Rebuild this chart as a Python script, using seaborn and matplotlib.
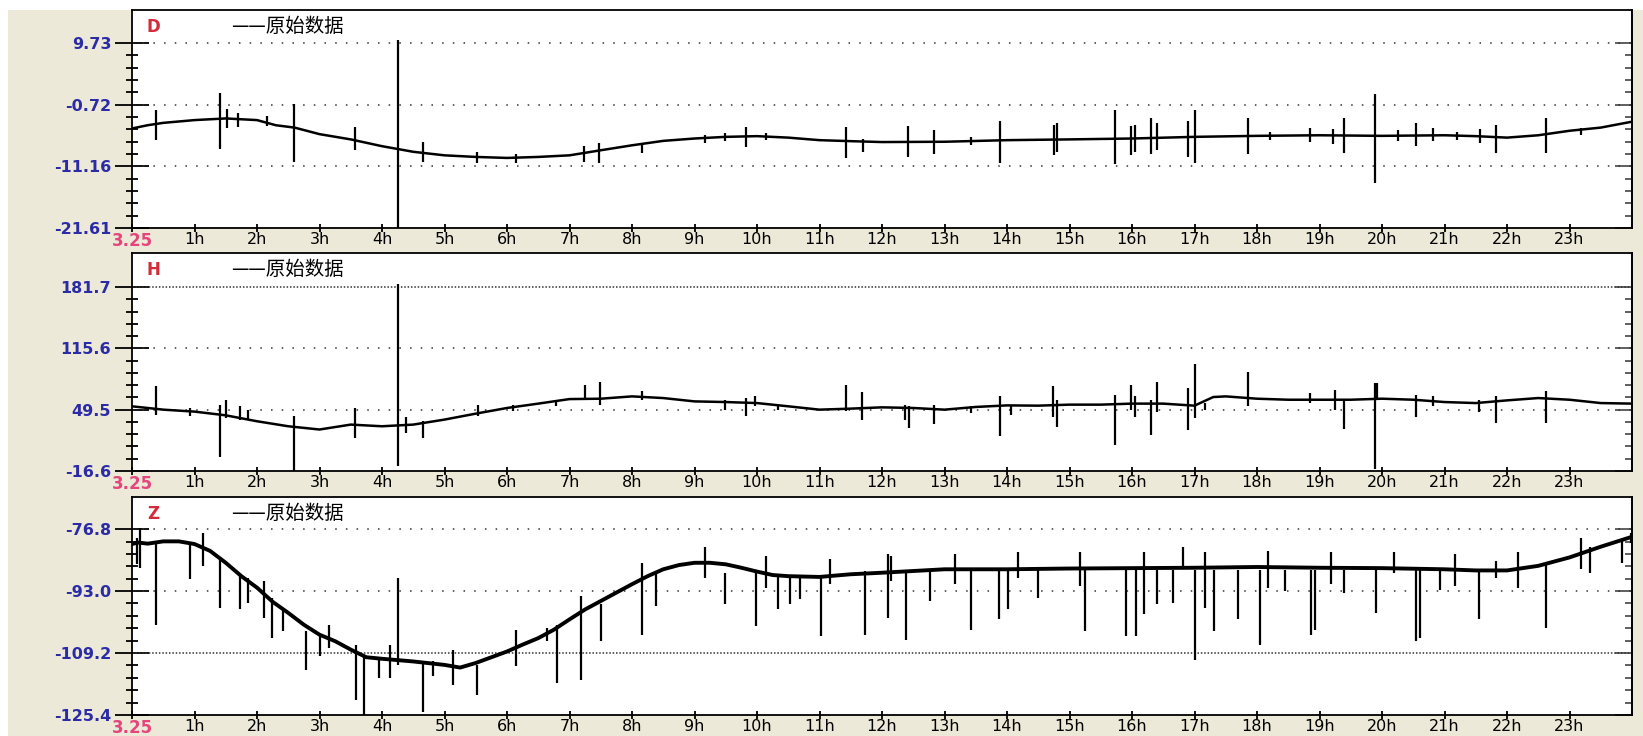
import numpy as np
import pandas as pd
import matplotlib
matplotlib.use("Agg")
import matplotlib.pyplot as plt
import seaborn as sns
from matplotlib.patches import Rectangle

sns.set_style("white")
plt.rcParams['font.family'] = ['DejaVu Sans']

# ---------------- data ----------------
hour_labels = ['3.25'] + [f'{h}h' for h in range(1, 24)]

# D component
D_base_h = [0, 0.25, 0.5, 1, 1.5, 2, 2.3, 2.6, 3, 3.5, 4, 4.5, 5, 5.5, 6, 6.5, 7, 7.5, 8, 8.5,
            9, 9.5, 10, 10.5, 11, 11.5, 12, 13, 14, 15, 16, 17, 18, 19, 20, 21, 21.5, 22,
            22.5, 23, 23.5, 24]
D_base_v = [-4.75, -4.2, -3.8, -3.33, -3.05, -3.33, -4.2, -4.6, -5.71, -6.6, -7.75, -8.7, -9.3,
            -9.57, -9.74, -9.57, -9.3, -8.44, -7.6, -6.85, -6.45, -6.17, -6.05, -6.3, -6.73,
            -6.9, -7.05, -7.0, -6.73, -6.6, -6.45, -6.17, -6.0, -5.9, -6.0, -5.9, -6.05, -6.3,
            -5.9, -5.14, -4.6, -3.6]
D_spk_h = [0.39, 1.40, 1.52, 1.69, 2.16, 2.59, 3.57, 4.26, 4.65, 5.52, 6.14, 7.23, 7.47, 8.16,
           9.17, 9.48, 9.83, 10.14, 11.42, 11.69, 12.42, 12.83, 13.43, 13.88, 14.75, 14.80,
           15.72, 15.99, 16.05, 16.30, 16.40, 16.89, 17.0, 17.85, 18.21, 18.85, 19.22, 19.39,
           19.89, 20.26, 20.54, 20.81, 21.2, 21.57, 21.82, 22.63, 23.18]
D_spk_hi = [-1.62, 1.33, -1.51, -2.19, -2.65, -0.66, -4.58, 10.18, -7.02, -8.72, -9.12, -7.75,
            -7.19, -7.19, -5.88, -5.48, -4.58, -5.48, -4.58, -6.45, -4.35, -5.03, -6.17, -3.5,
            -4.18, -3.9, -1.62, -4.35, -4.18, -2.93, -3.78, -3.5, -1.62, -3.04, -5.31, -4.75,
            -4.92, -2.93, 1.1, -5.03, -3.78, -4.75, -5.31, -4.92, -4.18, -3.04, -4.75]
D_spk_lo = [-6.73, -8.15, -4.75, -4.46, -4.35, -10.42, -8.44, -21.61, -10.42, -10.54, -10.6,
            -10.42, -10.6, -8.89, -7.19, -6.85, -7.87, -6.73, -9.74, -8.72, -9.57, -9.0, -7.58,
            -10.6, -9.29, -8.72, -10.82, -9.29, -8.72, -9.0, -8.32, -9.57, -10.6, -9.12, -6.73,
            -7.02, -7.3, -8.89, -14.0, -6.85, -7.75, -6.9, -6.73, -7.19, -8.89, -8.89, -5.88]
D_ticks = [-21.61, -11.16, -0.72, 9.73]
D_ticklabels = ['-21.61', '-11.16', '-0.72', '9.73']

# H component
H_base_h = [0, 0.25, 0.5, 1, 1.5, 2, 2.5, 3, 3.5, 4, 4.5, 5, 5.5, 6, 6.5, 7, 7.5, 8, 8.5, 9,
            9.5, 10, 10.5, 11, 11.5, 12, 12.5, 13, 13.5, 14, 14.5, 15, 15.5, 16, 16.5, 17,
            17.3, 17.5, 18, 18.5, 19, 19.5, 20, 20.5, 21, 21.5, 22, 22.5, 23, 23.5, 24]
H_base_v = [53.1, 51.3, 49.5, 47.4, 43.4, 37.0, 31.6, 28.1, 33.4, 31.6, 33.4, 38.8, 45.2, 51.3,
            56.0, 60.9, 61.3, 63.8, 62.0, 58.4, 57.7, 56.6, 53.1, 49.5, 50.6, 52.0, 51.3, 49.5,
            52.4, 54.1, 53.8, 54.9, 54.9, 56.0, 56.0, 53.8, 63.1, 63.8, 61.3, 60.2, 60.2, 60.2,
            61.3, 60.2, 57.7, 56.6, 59.5, 62.0, 60.2, 56.6, 56.0]
H_spk_h = [0.39, 0.92, 1.41, 1.50, 1.72, 1.86, 2.59, 3.57, 4.26, 4.39, 4.65, 5.53, 6.10, 6.78,
           7.25, 7.48, 8.16, 9.48, 9.83, 9.96, 10.33, 11.42, 11.68, 12.36, 12.43, 12.83, 13.43,
           13.88, 14.07, 14.73, 14.80, 15.72, 15.98, 16.05, 16.31, 16.40, 16.89, 17.0, 17.16,
           17.85, 18.85, 19.25, 19.39, 19.89, 19.92, 20.54, 20.81, 21.55, 21.82, 22.63]
H_spk_hi = [74.5, 51.3, 54.9, 60.2, 53.1, 49.5, 43.1, 51.3, 184.6, 41.6, 37.0, 54.9, 54.9, 60.2,
            76.3, 78.8, 69.2, 60.2, 62.0, 63.8, 54.9, 76.3, 68.1, 54.9, 53.1, 54.9, 53.8, 63.8,
            54.9, 74.5, 60.2, 65.6, 76.3, 63.8, 60.2, 78.8, 72.7, 98.4, 56.6, 90.6, 67.4, 70.9,
            60.2, 78.1, 78.1, 65.6, 63.8, 60.2, 63.8, 69.2]
H_spk_lo = [44.1, 42.4, -1.2, 40.6, 38.8, 38.8, -16.6, 19.1, -11.2, 24.5, 19.1, 42.4, 47.7, 53.1,
            60.2, 54.9, 60.2, 49.5, 42.4, 53.1, 49.5, 47.7, 38.8, 38.8, 29.9, 34.5, 45.9, 21.6,
            44.1, 41.6, 30.9, 10.9, 49.5, 41.6, 22.7, 46.6, 28.1, 40.6, 49.5, 53.1, 56.6, 49.5,
            28.8, -14.8, 60.2, 41.6, 53.1, 46.6, 35.2, 35.2]
H_ticks = [-16.6, 49.5, 115.6, 181.7]
H_ticklabels = ['-16.6', '49.5', '115.6', '181.7']

# Z component
Z_base_h = [0, 0.1, 0.25, 0.5, 0.75, 1, 1.25, 1.5, 1.75, 2, 2.25, 2.5, 2.75, 3, 3.25, 3.5, 3.75,
            4, 4.5, 5, 5.25, 5.5, 5.75, 6, 6.25, 6.5, 6.75, 7, 7.25, 7.5, 7.75, 8, 8.25, 8.5,
            8.75, 9, 9.25, 9.5, 9.75, 10, 10.25, 10.5, 11, 11.5, 12, 13, 14, 15, 16, 17, 18,
            19, 20, 21, 21.5, 22, 22.5, 23, 23.5, 24]
Z_base_v = [-80.7, -80.3, -80.6, -80.0, -80.0, -80.7, -82.5, -85.6, -89.1, -92.1, -95.8, -98.7,
            -101.8, -104.4, -106.1, -108.3, -110.3, -110.7, -111.4, -112.3, -113.0, -111.8,
            -110.3, -108.8, -107.0, -105.3, -103.1, -100.4, -97.8, -95.6, -93.4, -91.2, -89.1,
            -87.3, -86.2, -85.6, -85.6, -86.0, -86.9, -87.9, -88.8, -89.1, -89.3, -88.6, -88.2,
            -87.3, -87.3, -87.1, -87.0, -86.9, -86.7, -86.9, -87.0, -87.3, -87.6, -87.6, -86.4,
            -84.2, -81.4, -78.8]
Z_spk_h = [0.08, 0.12, 0.39, 0.92, 1.13, 1.40, 1.72, 1.86, 2.11, 2.24, 2.42, 2.78, 3.01, 3.15,
           3.59, 3.71, 3.95, 4.13, 4.26, 4.65, 4.82, 5.14, 5.52, 6.14, 6.64, 6.80, 7.19, 7.50,
           8.16, 8.39, 9.17, 9.48, 9.98, 10.14, 10.33, 10.53, 10.68, 11.02, 11.17, 11.72,
           12.09, 12.15, 12.39, 12.77, 13.16, 13.43, 13.87, 14.01, 14.18, 14.49, 15.16, 15.25,
           15.91, 16.07, 16.19, 16.40, 16.65, 16.82, 17.0, 17.16, 17.31, 17.70, 18.04, 18.18,
           18.44, 18.87, 18.93, 19.18, 19.39, 19.90, 20.19, 20.54, 20.60, 20.93, 21.16, 21.55,
           21.82, 22.17, 22.63, 23.18, 23.33, 23.84, 23.99]
Z_spk_hi = [-79.0, -76.5, -80.3, -80.7, -77.7, -84.2, -88.6, -89.5, -90.4, -94.8, -97.4, -103.5,
            -104.4, -101.8, -107.0, -109.6, -110.5, -107.0, -89.5, -111.4, -111.4, -108.3,
            -112.3, -103.1, -102.6, -101.8, -94.3, -96.5, -85.6, -88.2, -81.6, -88.2, -87.7,
            -83.8, -88.6, -89.1, -89.1, -89.5, -84.7, -87.7, -83.4, -83.8, -87.6, -87.6, -83.4,
            -87.6, -87.6, -87.6, -82.9, -87.6, -82.9, -87.6, -87.6, -87.6, -82.9, -87.6, -87.6,
            -81.6, -87.6, -82.9, -87.6, -87.6, -87.6, -82.5, -87.6, -87.6, -87.6, -82.9, -87.6,
            -87.6, -82.9, -87.6, -87.6, -87.6, -83.4, -87.6, -85.1, -82.9, -86.0, -79.0, -81.6,
            -79.9, -77.7]
Z_spk_lo = [-86.0, -86.9, -101.8, -89.9, -86.4, -97.4, -97.8, -96.1, -100.0, -105.3, -103.5,
            -113.6, -110.1, -107.9, -121.5, -125.4, -115.8, -115.8, -112.3, -124.5, -115.3,
            -117.5, -120.1, -112.7, -106.1, -117.1, -116.2, -106.1, -104.4, -97.0, -89.5, -96.5,
            -102.2, -92.1, -97.8, -96.5, -95.2, -104.8, -91.2, -104.4, -100.0, -90.4, -105.7,
            -95.6, -91.2, -103.1, -100.4, -97.8, -89.5, -94.8, -91.7, -103.5, -104.8, -104.8,
            -99.1, -96.5, -96.1, -87.3, -111.0, -97.4, -103.5, -100.4, -107.0, -92.1, -93.0,
            -104.4, -103.1, -91.2, -93.4, -98.7, -88.2, -106.0, -105.3, -92.6, -91.7, -100.4,
            -89.5, -92.1, -102.6, -87.3, -88.2, -85.6, -80.3]
Z_ticks = [-125.4, -109.2, -93.0, -76.8]
Z_ticklabels = ['-125.4', '-109.2', '-93.0', '-76.8']

# ---------------- layout ----------------
W, H = 1643, 736
fig = plt.figure(figsize=(W / 100, H / 100), dpi=100, facecolor='white')
fig.add_artist(Rectangle((8 / W, 0), 1, 1 - 10 / H, transform=fig.transFigure,
                         facecolor='#ECE9D8', edgecolor='none', zorder=-10))

left = 132 / W
width = 1500 / W
panel_h = 218 / H

panels = [
    dict(name='D', top=10, bh=D_base_h, bv=D_base_v, sh=D_spk_h, slo=D_spk_lo, shi=D_spk_hi,
         ticks=D_ticks, labels=D_ticklabels, ytop=15.32, dense=[], lw=1.8),
    dict(name='H', top=253, bh=H_base_h, bv=H_base_v, sh=H_spk_h, slo=H_spk_lo, shi=H_spk_hi,
         ticks=H_ticks, labels=H_ticklabels, ytop=218.3, dense=[181.7], lw=1.8),
    dict(name='Z', top=497, bh=Z_base_h, bv=Z_base_v, sh=Z_spk_h, slo=Z_spk_lo, shi=Z_spk_hi,
         ticks=Z_ticks, labels=Z_ticklabels, ytop=-68.4, dense=[-109.2], lw=2.8),
]

label_blue = '#2b2ba6'
pink = '#e3457c'
red = '#d42a3a'

for p in panels:
    bottom = 1 - (p['top'] + 218) / H
    ax = fig.add_axes([left, bottom, width, panel_h])
    ax.set_facecolor('white')

    df = pd.DataFrame({'hour': p['bh'], 'value': p['bv']})
    sns.lineplot(data=df, x='hour', y='value', ax=ax, color='black', lw=p['lw'],
                 estimator=None, sort=False, zorder=3)
    ax.vlines(p['sh'], p['slo'], p['shi'], color='black', lw=1.6, zorder=3)

    ax.set_xlim(0, 24)
    ax.set_ylim(p['ticks'][0], p['ytop'])
    ax.set_xlabel('')
    ax.set_ylabel('')

    # gridlines at upper major ticks
    for v in p['ticks'][1:]:
        ls = (0, (1, 1.2)) if v in p['dense'] else (0, (1, 6))
        ax.axhline(v, color='#333333', lw=1.1, ls=ls, zorder=1)

    # x ticks
    ax.set_xticks(range(24))
    ax.set_xticklabels(hour_labels)
    ax.tick_params(axis='x', which='major', bottom=True, direction='inout', length=6,
                   width=1.3, pad=0, labelsize=11.5, colors='black')
    xl = ax.get_xticklabels()[0]
    xl.set_color(pink)
    xl.set_fontweight('bold')
    xl.set_fontsize(12)

    # y ticks
    t = p['ticks']
    minor = []
    for a, b in zip(t[:-1], t[1:]):
        minor += list(np.linspace(a, b, 6)[1:-1])
    ax.set_yticks(t)
    ax.set_yticklabels(p['labels'], fontweight='bold', color=label_blue, fontsize=11.5)
    ax.set_yticks(minor, minor=True)
    ax.tick_params(axis='y', which='major', left=True, direction='inout', length=24,
                   width=1.3, pad=3, color='black')
    ax.tick_params(axis='y', which='minor', left=True, direction='inout', length=8,
                   width=1.3, color='black')

    sec = ax.secondary_yaxis('right')
    sec.set_yticks(t)
    sec.set_yticks(minor, minor=True)
    sec.tick_params(axis='y', which='major', right=True, direction='in', length=12, width=1.2,
                    labelright=False, color='#444444')
    sec.tick_params(axis='y', which='minor', right=True, direction='in', length=5, width=1.2,
                    labelright=False, color='#444444')
    sec.spines['right'].set_linewidth(1.3)

    for s in ax.spines.values():
        s.set_color('black')
        s.set_linewidth(1.3)

    ax.text(0.010, 0.92, p['name'], transform=ax.transAxes, color=red, fontweight='bold',
            fontsize=12, va='center', ha='left')
    ax.text(0.066, 0.925, '——原始数据', transform=ax.transAxes, color='black',
            family=['Noto Sans CJK SC', 'DejaVu Sans'], fontsize=14, va='center', ha='left')

fig.savefig('out.png', dpi=100, facecolor='white')
